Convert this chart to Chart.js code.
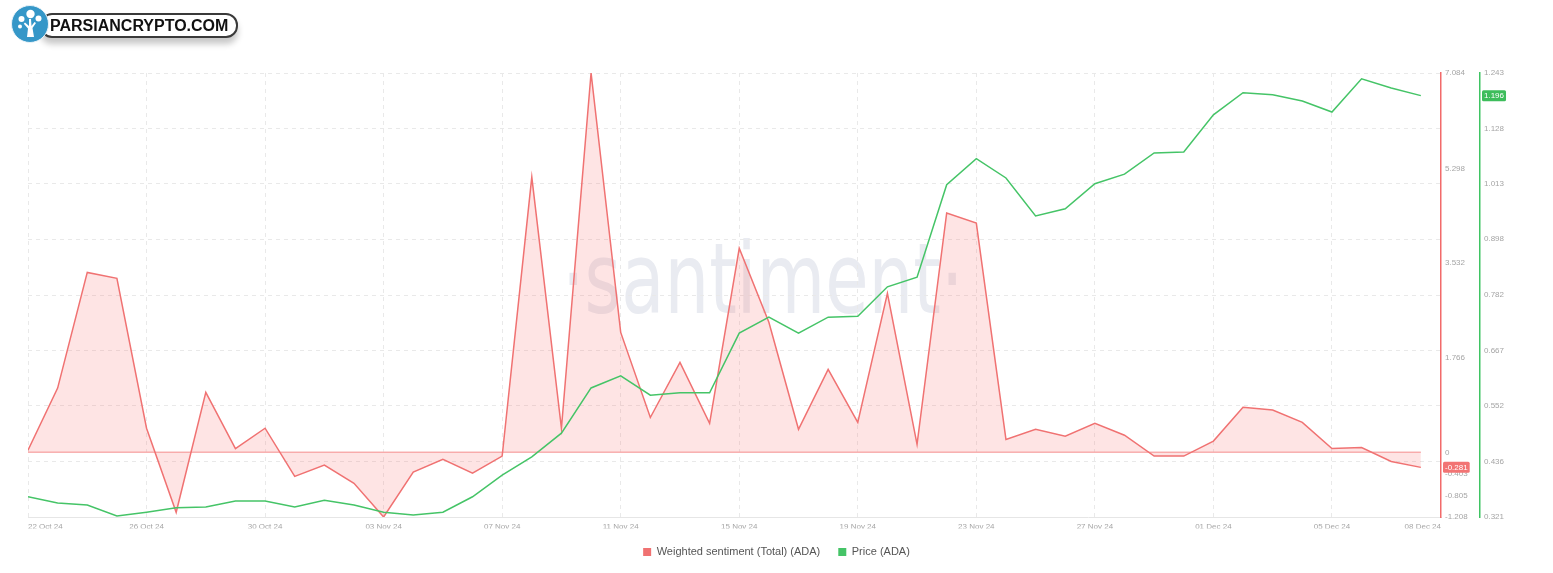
<!DOCTYPE html>
<html>
<head>
<meta charset="utf-8">
<script src="https://cdn.jsdelivr.net/npm/chart.js@4.4.1/dist/chart.umd.min.js"></script>
<style>
  body { margin: 0; background: #fff; }
  #wrap { position: relative; width: 1553px; height: 573px; overflow: hidden; }
  #mark {
    position: absolute; left: 562px; top: 230px;
    font: 98px/1 "DejaVu Sans"; color: #e9ebf1;
    transform: scaleX(0.72); transform-origin: 0 0; white-space: nowrap;
  }
  #chart { position: absolute; left: 0; top: 0; }
  #logo { position: absolute; left: 10px; top: 3px; width: 240px; height: 46px; }
  #logo .pill {
    position: absolute; left: 30px; top: 10px; width: 186px; height: 21px;
    border: 2px solid #3a3a3a; border-radius: 12px; background: #fff;
    box-shadow: 0 6px 6px rgba(0,0,0,0.22); white-space: nowrap;
    font: bold 16px/21px "Liberation Sans", Arial, sans-serif; color: #111;
    padding-left: 8px;
  }
  #logo svg { position: absolute; left: 1px; top: 1px; }
</style>
</head>
<body>
<div id="wrap">
  <div id="mark">·santiment·</div>
  <canvas id="chart" width="1553" height="573"></canvas>
  <div id="logo">
    <div class="pill">PARSIANCRYPTO.COM</div>
    <svg width="40" height="40" viewBox="0 0 40 40">
      <circle cx="19" cy="20" r="18.5" fill="#3597c8" stroke="#e8f2f8" stroke-width="1"/>
      <path d="M16 33 L23 33 L21.5 24 L25 19 L23.5 18 L20.5 22 L20 15 L18 15 L18 22 L14 18.5 L12.8 19.8 L17 24.5 Z" fill="#fff"/>
      <circle cx="19.5" cy="10" r="4.2" fill="#fff"/>
      <circle cx="10.5" cy="15" r="3" fill="#fff"/>
      <circle cx="27.5" cy="14.5" r="3" fill="#fff"/>
      <circle cx="9" cy="22.5" r="2" fill="#fff"/>
    </svg>
  </div>
</div>
<script>
// daily points, 22 Oct 24 .. 08 Dec 24
const dates = [
  "22 Oct 24", "23 Oct 24", "24 Oct 24", "25 Oct 24", "26 Oct 24", "27 Oct 24", "28 Oct 24", "29 Oct 24",
  "30 Oct 24", "31 Oct 24", "01 Nov 24", "02 Nov 24", "03 Nov 24", "04 Nov 24", "05 Nov 24", "06 Nov 24",
  "07 Nov 24", "08 Nov 24", "09 Nov 24", "10 Nov 24", "11 Nov 24", "12 Nov 24", "13 Nov 24", "14 Nov 24",
  "15 Nov 24", "16 Nov 24", "17 Nov 24", "18 Nov 24", "19 Nov 24", "20 Nov 24", "21 Nov 24", "22 Nov 24",
  "23 Nov 24", "24 Nov 24", "25 Nov 24", "26 Nov 24", "27 Nov 24", "28 Nov 24", "29 Nov 24", "30 Nov 24",
  "01 Dec 24", "02 Dec 24", "03 Dec 24", "04 Dec 24", "05 Dec 24", "06 Dec 24", "07 Dec 24", "08 Dec 24"
];

const sentiment = [
  0.04, 1.20, 3.36, 3.25, 0.45, -1.12, 1.12, 0.07, 0.45, -0.45, -0.24, -0.58,
  -1.208, -0.37, -0.13, -0.39, -0.07, 5.14, 0.45, 7.084, 2.24, 0.65, 1.68, 0.54,
  3.81, 2.43, 0.43, 1.55, 0.56, 2.97, 0.15, 4.47, 4.28, 0.24, 0.43, 0.30,
  0.54, 0.32, -0.07, -0.07, 0.21, 0.84, 0.79, 0.56, 0.07, 0.09, -0.17, -0.281
];

const price = [
  0.363, 0.350, 0.346, 0.323, 0.331, 0.340, 0.342, 0.354, 0.354, 0.342, 0.356, 0.346,
  0.331, 0.325, 0.331, 0.363, 0.408, 0.446, 0.495, 0.589, 0.614, 0.574, 0.579, 0.579,
  0.703, 0.736, 0.703, 0.736, 0.738, 0.799, 0.819, 1.011, 1.065, 1.025, 0.946, 0.961,
  1.013, 1.033, 1.077, 1.079, 1.156, 1.202, 1.198, 1.185, 1.162, 1.231, 1.212, 1.196
];

// axis ticks as shown on the chart
const xTickIdx = [0, 4, 8, 12, 16, 20, 24, 28, 32, 36, 40, 44, 47];
const sentTicks = [-1.208, -0.805, -0.403, 0, 1.766, 3.532, 5.298, 7.084];
const priceTicks = [0.321, 0.436, 0.552, 0.667, 0.782, 0.898, 1.013, 1.128, 1.243];

const red = "#f07272";
const green = "#45c467";
const tickFont = { family: "Liberation Sans, Arial, sans-serif", size: 8 };
const tickColor = "#a5a5a5";
const gridColor = "#e9e9e9";

function fixWidth(w) {
  return (scale) => { scale.width = w; };
}

function drawBadge(ctx, scale, value, text, color) {
  const yy = scale.getPixelForValue(value);
  ctx.save();
  ctx.font = '8px "Liberation Sans", Arial, sans-serif';
  const w = ctx.measureText(text).width + 4;
  const x0 = scale.left + 2;
  ctx.fillStyle = color;
  ctx.beginPath();
  ctx.roundRect(x0, yy - 5.5, w, 11, 1.5);
  ctx.fill();
  ctx.fillStyle = "#fff";
  ctx.textBaseline = "middle";
  ctx.fillText(text, x0 + 2, yy + 0.5);
  ctx.restore();
}

const extras = {
  id: "extras",
  beforeDatasetsDraw(chart) {
    const { ctx, scales: { x, y } } = chart;
    const y0 = y.getPixelForValue(0);
    ctx.save();
    ctx.strokeStyle = "#f8b4b4";
    ctx.lineWidth = 1.5;
    ctx.beginPath();
    ctx.moveTo(x.getPixelForValue(0), y0);
    ctx.lineTo(x.getPixelForValue(dates.length - 1), y0);
    ctx.stroke();
    ctx.restore();
  },
  afterDraw(chart) {
    const ctx = chart.ctx;
    const s = sentiment[sentiment.length - 1];
    const p = price[price.length - 1];
    drawBadge(ctx, chart.scales.y, s, s.toFixed(3), "#f27474");
    drawBadge(ctx, chart.scales.y1, p, p.toFixed(3), "#3dbd5b");
  }
};

const ctx = document.getElementById("chart");
const chart = new Chart(ctx, {
  type: "line",
  data: {
    datasets: [
      {
        label: "Weighted sentiment (Total) (ADA)",
        data: sentiment.map((v, i) => ({ x: i, y: v })),
        yAxisID: "y",
        borderColor: red,
        backgroundColor: "rgba(250, 120, 120, 0.2)",
        borderWidth: 1.5,
        fill: "origin",
        pointRadius: 0,
        tension: 0,
        order: 1,
      },
      {
        label: "Price (ADA)",
        data: price.map((v, i) => ({ x: i, y: v })),
        yAxisID: "y1",
        borderColor: green,
        backgroundColor: green,
        borderWidth: 1.5,
        fill: false,
        pointRadius: 0,
        tension: 0,
        order: 0,
      },
    ],
  },
  options: {
    responsive: false,
    animation: false,
    events: [],
    layout: { padding: { left: 0, top: 73, right: 0, bottom: 5.5 } },
    plugins: {
      tooltip: { enabled: false },
      legend: {
        position: "bottom",
        labels: {
          boxWidth: 8,
          boxHeight: 8,
          padding: 18,
          color: "#555",
          font: { family: "Liberation Sans, Arial, sans-serif", size: 11 },
          sort: (a, b) => a.datasetIndex - b.datasetIndex,
          generateLabels(chart) {
            const items = Chart.defaults.plugins.legend.labels.generateLabels(chart);
            items.forEach((it) => {
              it.fillStyle = it.strokeStyle;
              it.lineWidth = 0;
            });
            return items;
          },
        },
      },
    },
    scales: {
      x: {
        type: "linear",
        min: 0,
        max: 47.68,
        offset: false,
        afterBuildTicks(scale) {
          scale.ticks = xTickIdx.map((i) => ({ value: i === dates.length - 1 ? scale.max : i }));
        },
        afterFit(scale) { scale.height = 11.5; },
        ticks: {
          autoSkip: false,
          maxRotation: 0,
          align: "inner",
          padding: 5,
          color: tickColor,
          font: tickFont,
          callback: (v) => dates[Math.min(dates.length - 1, Math.round(v))],
        },
        grid: {
          color: (c) => (c.index === xTickIdx.length - 1 ? "rgba(0,0,0,0)" : gridColor),
          drawTicks: false,
        },
        border: { color: "#e6e6e6", dash: [4, 4] },
      },
      // empty left axis, only keeps the plot 28px from the edge
      pad: {
        type: "linear",
        position: "left",
        afterFit: fixWidth(28),
        ticks: { display: false },
        grid: { display: false, drawTicks: false },
        border: { display: false },
      },
      y: {
        type: "linear",
        position: "right",
        min: -1.208,
        max: 7.084,
        afterBuildTicks(scale) {
          scale.ticks = sentTicks.map((v) => ({ value: v }));
        },
        afterFit: fixWidth(39),
        ticks: {
          padding: 4,
          color: tickColor,
          font: tickFont,
          callback: (v) => (v === 0 ? "0" : v.toFixed(3)),
        },
        grid: { display: false, drawTicks: false },
        border: { display: true, color: "#f26a6a", width: 1.5 },
      },
      y1: {
        type: "linear",
        position: "right",
        min: 0.321,
        max: 1.243,
        afterBuildTicks(scale) {
          scale.ticks = priceTicks.map((v) => ({ value: v }));
        },
        afterFit: fixWidth(73),
        ticks: {
          padding: 4,
          color: tickColor,
          font: tickFont,
          callback: (v) => v.toFixed(3),
        },
        grid: { color: gridColor, drawTicks: false },
        border: { color: "#3fc463", width: 1.5, dash: [4, 4] },
      },
    },
  },
  plugins: [extras],
});
</script>
</body>
</html>
